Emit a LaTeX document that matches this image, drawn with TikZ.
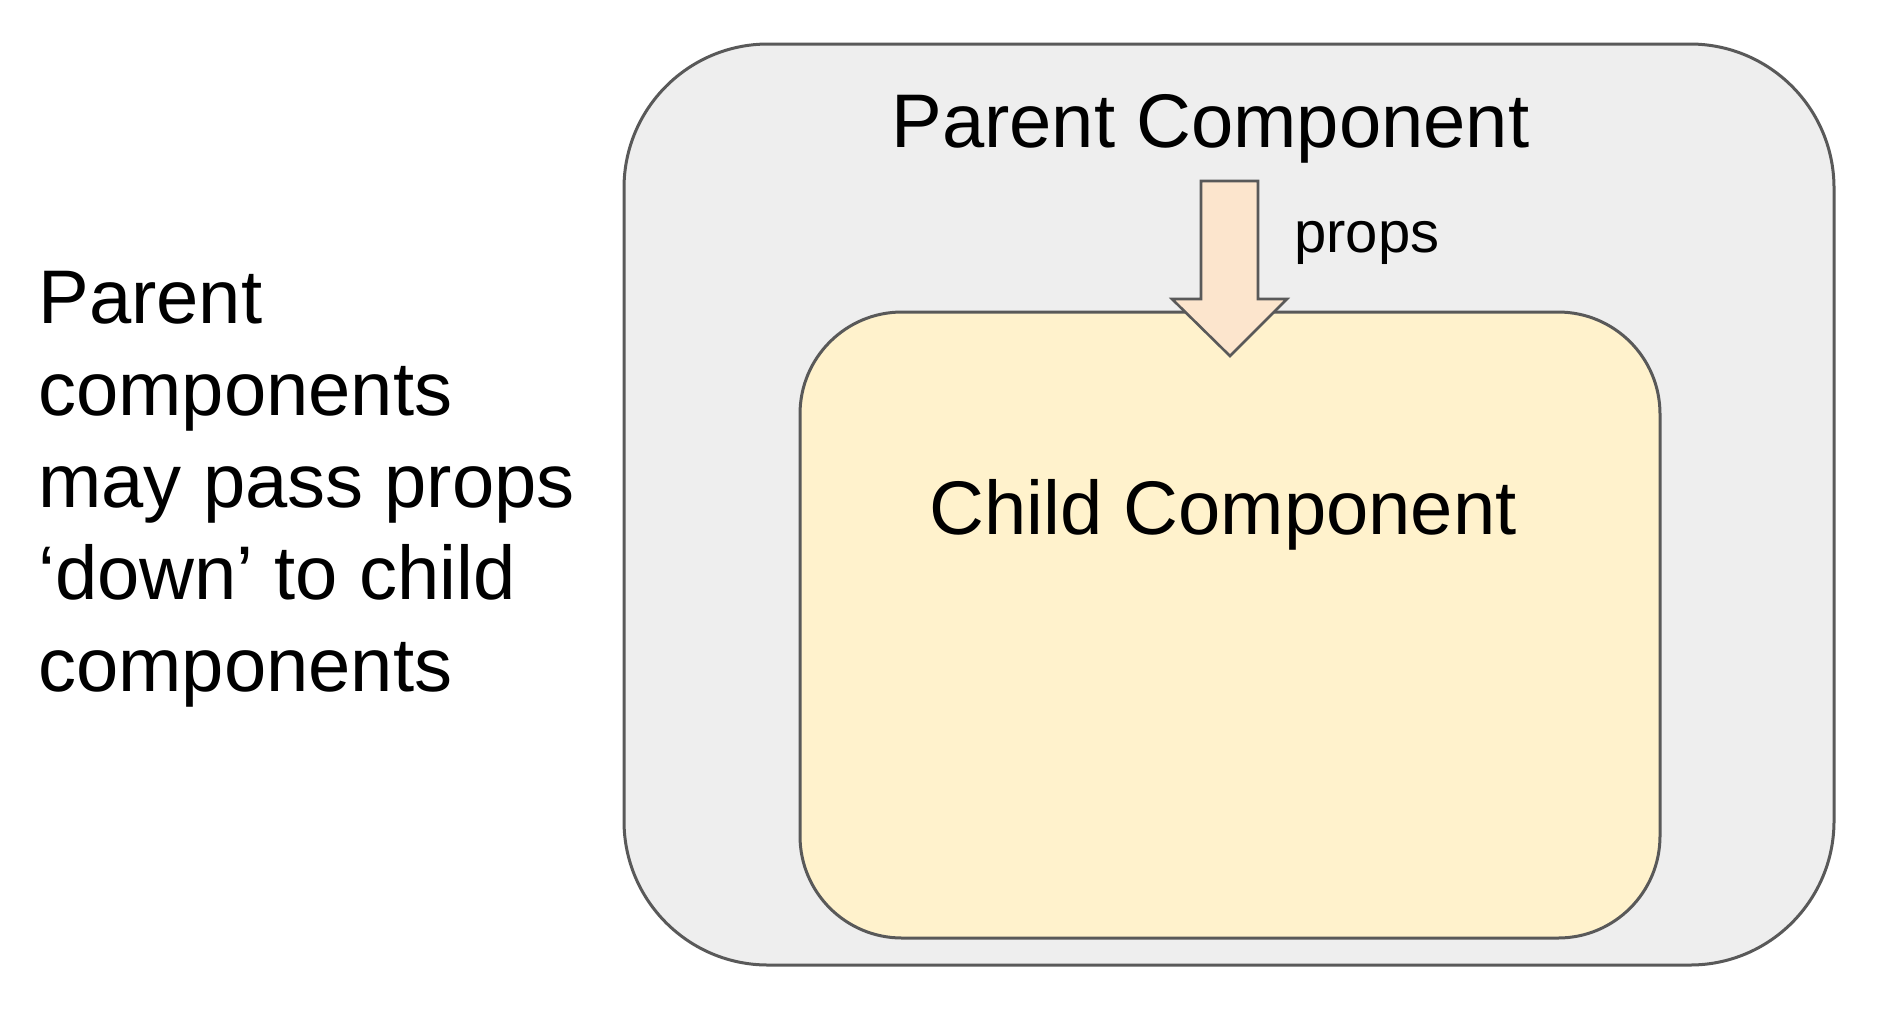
\documentclass[tikz,border=0pt]{standalone}
\usepackage{fontspec}
\setmainfont{Liberation Sans}
\definecolor{edge}{HTML}{595959}
\definecolor{outerfill}{HTML}{EEEEEE}
\definecolor{innerfill}{HTML}{FFF2CC}
\definecolor{arrowfill}{HTML}{FCE5CD}
\tikzset{
  box/.style={draw=edge, line width=1.5pt},
  bigtext/.style={inner sep=0pt, font=\fontsize{38}{46}\selectfont},
  smalltext/.style={inner sep=0pt, font=\fontsize{29}{35}\selectfont},
  blockarrow/.style={draw=edge, fill=arrowfill, line width=1.3pt, line join=miter},
}
\begin{document}
\begin{tikzpicture}[x=0.5pt, y=-0.5pt]
\useasboundingbox (0,0) rectangle (1878,1008);
\fill[white] (0,0) rectangle (1878,1008);
% outer parent box
\draw[box, fill=outerfill, rounded corners=72pt] (624,44) rectangle (1834,965);
\coordinate (parentbox) at (1229,504);
% inner child box
\draw[box, fill=innerfill, rounded corners=51pt] (800,312) rectangle (1660,938);
\node[bigtext, anchor=base west] (parent) at (891,147) {Parent Component};
\node[bigtext, anchor=base west] (child) at (929,534) {Child Component};
\node[smalltext, anchor=base west] (props) at (1294,252) {props};
% block arrow
\coordinate (atop) at (1230,181);
\draw[blockarrow] (1201,181) -- (1258,181) -- (1258,299) -- (1287,299) -- (1230,356) -- (1172,299) -- (1201,299) -- cycle;
% left description
\node[bigtext, anchor=base west] (l1) at (38,323) {Parent};
\node[bigtext, anchor=base west] (l2) at (38,415) {components};
\node[bigtext, anchor=base west] (l3) at (38,507) {may pass props};
\node[bigtext, anchor=base west] (l4) at (38,599) {‘down’ to child};
\node[bigtext, anchor=base west] (l5) at (38,691) {components};
\end{tikzpicture}
\end{document}
